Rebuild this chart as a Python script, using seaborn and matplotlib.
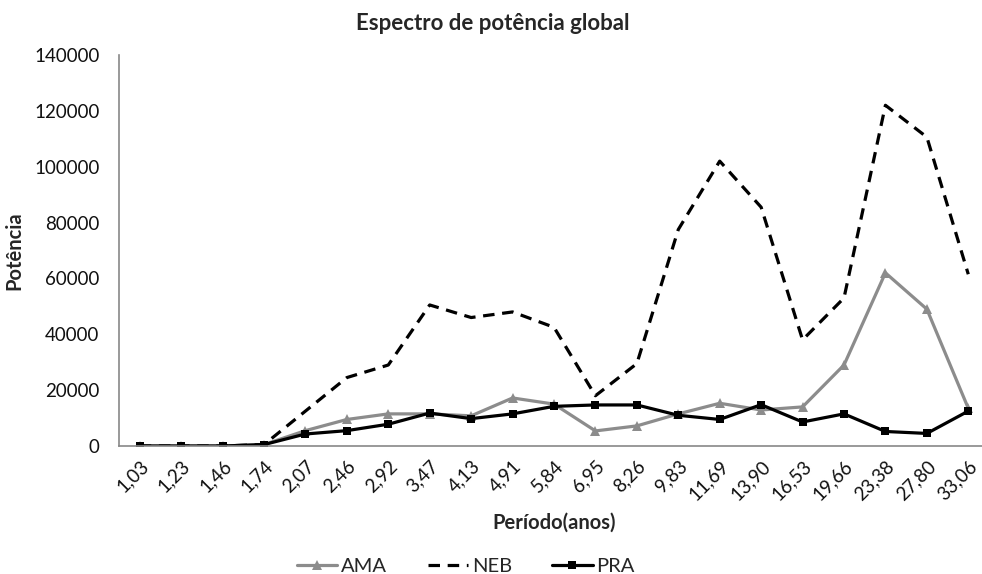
import matplotlib
matplotlib.use("Agg")
import matplotlib.pyplot as plt
from matplotlib.ticker import FixedLocator, NullFormatter
import seaborn as sns
import pandas as pd

periodos = ["1,03", "1,23", "1,46", "1,74", "2,07", "2,46", "2,92", "3,47", "4,13",
            "4,91", "5,84", "6,95", "8,26", "9,83", "11,69", "13,90", "16,53",
            "19,66", "23,38", "27,80", "33,06"]

ama = [0, 0, 0, 500, 5500, 9500, 11500, 11500, 10800, 17200, 15000, 5400, 7200,
       11500, 15300, 12900, 14000, 29000, 62000, 49000, 13500]
neb = [0, 0, 0, 500, 12500, 24500, 29000, 50500, 46000, 48000, 42500, 18000, 29500,
       77500, 102000, 85500, 38000, 53000, 122000, 110600, 61500]
pra = [0, 0, 0, 500, 4300, 5500, 7800, 11800, 9800, 11500, 14200, 14700, 14700,
       11000, 9500, 14800, 8600, 11500, 5200, 4500, 12500]

series = {"AMA": ama, "NEB": neb, "PRA": pra}
estilos = {
    "AMA": dict(color="#8c8c8c", marker="^", markersize=7, linestyle="-"),
    "NEB": dict(color="black", marker=None, linestyle=(0, (3.6, 2.4))),
    "PRA": dict(color="black", marker="s", markersize=5.5, linestyle="-"),
}

df = pd.DataFrame([(nome, p, v) for nome, vals in series.items()
                   for p, v in zip(periodos, vals)],
                  columns=["serie", "periodo", "potencia"])

sns.set_style("white")
plt.rcParams["font.family"] = ["Lato", "DejaVu Sans"]

fig = plt.figure(figsize=(9.82, 5.74), dpi=100)
ax = fig.add_axes([119 / 982, 128 / 574, 870 / 982, 391 / 574])

for nome in series:
    st = estilos[nome]
    sns.lineplot(data=df[df.serie == nome], x="periodo", y="potencia", sort=False,
                 ax=ax, label=nome, linewidth=2.3, markeredgewidth=0, **st)

ax.set_xlim(-0.5, len(periodos) - 0.5)
ax.set_ylim(0, 140000)
ax.set_yticks(range(0, 140001, 20000))
ax.set_yticklabels([str(v) for v in range(0, 140001, 20000)])

ax.set_xticks(range(len(periodos)))
ax.set_xticklabels(periodos, rotation=45, ha="right", rotation_mode="anchor")
ax.xaxis.set_minor_locator(FixedLocator([i - 0.5 for i in range(len(periodos) + 1)]))
ax.xaxis.set_minor_formatter(NullFormatter())
ax.tick_params(axis="x", which="major", length=0, pad=8, labelsize=13.5, labelcolor="#111111")
ax.tick_params(axis="x", which="minor", length=6, width=1, color="#888888", direction="out")
ax.tick_params(axis="y", which="major", length=6, width=1, color="#888888", direction="out",
               labelsize=13.5, labelcolor="#111111", pad=8)

sns.despine(ax=ax)
for lado in ["left", "bottom"]:
    ax.spines[lado].set_color("#888888")
    ax.spines[lado].set_linewidth(1.2)

ax.set_xlabel("Período(anos)", fontsize=14.5, fontweight="bold", labelpad=7)
ax.set_ylabel("Potência", fontsize=14.5, fontweight="bold", labelpad=7)
fig.text(493 / 982, 1 - 23 / 574, "Espectro de potência global", ha="center", va="center",
         fontsize=16, fontweight="bold")

ax.get_legend().remove()
h, l = ax.get_legend_handles_labels()
fig.legend(h, l, loc="center", bbox_to_anchor=(466 / 982, 1 - 566 / 574), ncol=3,
           frameon=False, fontsize=14.5, handlelength=2.0, columnspacing=2.0,
           handletextpad=0.2)

fig.savefig("out.png", dpi=100)
